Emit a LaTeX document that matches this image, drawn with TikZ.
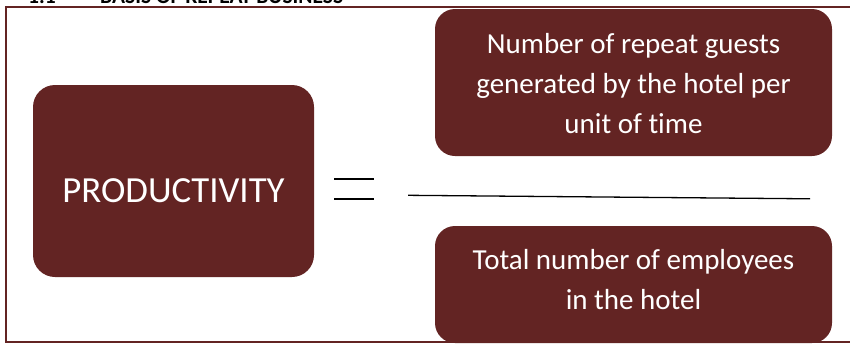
\documentclass[tikz,border=0pt]{standalone}
\usepackage{fontspec}
\setmainfont[Ligatures=NoCommon]{Carlito}
\definecolor{maroon}{RGB}{99,36,35}
\begin{document}
\begin{tikzpicture}[x=1pt,y=-1pt,
  box/.style={fill=maroon, draw=none, rounded corners=22pt, inner sep=0pt},
  boxtext/.style={text=white, align=center, inner sep=0pt, font=\fontsize{29}{40}\selectfont},
  headtext/.style={anchor=base west, inner sep=0pt, font=\fontsize{21.5}{24}\selectfont\bfseries},
  rule/.style={line width=1.5pt, black}]
\useasboundingbox (0,0) rectangle (850,343);
\begin{scope}
\clip (0,0) rectangle (850,343);
% section heading, running off the top edge
\node[headtext] (secnum) at (28,3) {1.1};
\node[headtext] (head) at (100,3) {BASIS OF REPEAT BUSINESS};
% surrounding frame
\draw[maroon, line width=2pt] (5.5,7) rectangle (870,341.5);
% boxes
\node[box, minimum width=281pt, minimum height=192pt] (prod) at (173.5,181) {};
\node[box, minimum width=397pt, minimum height=147pt, rounded corners=20pt] (num) at (633.5,82.5) {};
\node[box, minimum width=397pt, minimum height=117pt, rounded corners=20pt] (den) at (633.5,284.5) {};
% box texts
\node[text=white, inner sep=0pt, font=\fontsize{36.8}{44}\selectfont] (prodtext) at (173.5,190.5) {PRODUCTIVITY};
\node[boxtext] (numtext) at (633.5,84) {Number of repeat guests\\generated by the hotel per\\unit of time};
\node[boxtext] (dentext) at (633.5,280) {Total number of employees\\in the hotel};
\end{scope}
% equals sign
\coordinate (eqA) at (334,179);
\coordinate (eqB) at (374,179);
\coordinate (eqC) at (334,199);
\coordinate (eqD) at (374,199);
\draw[rule] (eqA) -- (eqB);
\draw[rule] (eqC) -- (eqD);
% fraction bar
\coordinate (barL) at (408,195.3);
\coordinate (barR) at (810,198.8);
\draw[line width=1.3pt] (barL) -- (barR);
\end{tikzpicture}
\end{document}
